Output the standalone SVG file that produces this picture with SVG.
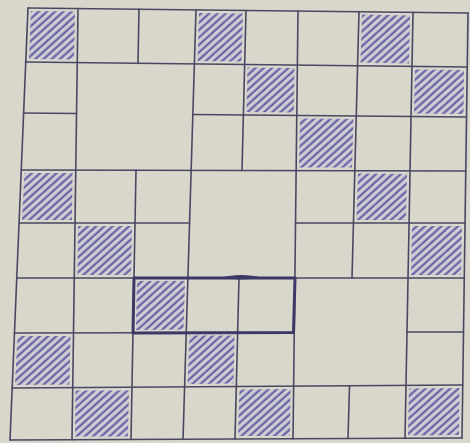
<svg xmlns="http://www.w3.org/2000/svg" width="470" height="443" viewBox="0 0 470 443">
  <defs>
    <pattern id="hatch" patternUnits="userSpaceOnUse" width="5.5" height="5.5" patternTransform="rotate(48)">
      <rect width="5.5" height="5.5" fill="#cfccd4"/>
      <line x1="1.5" y1="0" x2="1.5" y2="5.5" stroke="#5d59a3" stroke-width="2"/>
    </pattern>
  </defs>
  <style>
    .bg { fill: #d9d6cc; }
    .shade { fill: url(#hatch); }
    .grid line { stroke: #4b4763; stroke-width: 1.6; stroke-linecap: round; }
    .thick { fill: none; stroke: #3e3868; stroke-width: 3; stroke-linejoin: round; }
  </style>
  <rect class="bg" x="0" y="0" width="470" height="443"/>

  <g id="shaded-cells">
    <polygon id="cell-r0c0" class="shade" points="31,11 75,11.5 74,59.5 29,59"/>
    <polygon id="cell-r0c3" class="shade" points="199,13 243,13.5 241.5,61.5 197.5,61"/>
    <polygon id="cell-r0c6" class="shade" points="362,14.5 410,15.5 409,63.5 360.5,62.5"/>
    <polygon id="cell-r1c4" class="shade" points="247.5,67.5 294.5,68 294,112.5 246.5,112"/>
    <polygon id="cell-r1c7" class="shade" points="415,69.5 464,70 463.5,114 414,113.5"/>
    <polygon id="cell-r2c5" class="shade" points="300,118.5 353.5,119 352,167.5 299,167.5"/>
    <polygon id="cell-r3c0" class="shade" points="24.5,173 72.5,173 72,220 22,220"/>
    <polygon id="cell-r3c6" class="shade" points="358,173.5 407,174 406,220 356.5,220"/>
    <polygon id="cell-r4c1" class="shade" points="78,226 132,226 131,275 77.5,275"/>
    <polygon id="cell-r4c7" class="shade" points="412,226 462,226 461,275 411,275"/>
    <polygon id="cell-r5c2" class="shade" points="137,281 185,281 183.5,329.5 136,330"/>
    <polygon id="cell-r6c0" class="shade" points="17.5,336 70.5,336 69.5,384.5 15,385"/>
    <polygon id="cell-r6c3" class="shade" points="189.5,335.5 234.5,335.5 233.5,383.5 187.5,384"/>
    <polygon id="cell-r7c1" class="shade" points="75.5,390.5 129,390.5 128,436.5 75,436.5"/>
    <polygon id="cell-r7c4" class="shade" points="239.5,389.5 290.5,389 290,436 238,436"/>
    <polygon id="cell-r7c7" class="shade" points="409,388.5 459.5,388 459,435 408,435.5"/>
  </g>

  <g id="connectors" class="grid">
    <line x1="28" y1="8" x2="468" y2="13"/>
    <line x1="25.5" y1="62" x2="467" y2="67"/>
    <line x1="23.5" y1="113" x2="76.5" y2="113.5"/>
    <line x1="193" y1="114.5" x2="466.5" y2="117"/>
    <line x1="21.5" y1="170" x2="466" y2="171"/>
    <line x1="19" y1="223" x2="189.5" y2="223"/>
    <line x1="295.5" y1="223" x2="465" y2="223"/>
    <line x1="17" y1="278" x2="464" y2="278"/>
    <line x1="14.5" y1="333" x2="294" y2="332.5"/>
    <line x1="407" y1="332" x2="463.5" y2="332"/>
    <line x1="12" y1="388" x2="462.5" y2="385"/>
    <line x1="10" y1="440" x2="462" y2="438"/>
    <line x1="28" y1="8" x2="10" y2="440"/>
    <line x1="78" y1="8.5" x2="72" y2="440"/>
    <line x1="139" y1="9" x2="138" y2="63"/>
    <line x1="136" y1="170" x2="131" y2="439.5"/>
    <line x1="196" y1="10" x2="183" y2="439.5"/>
    <line x1="246" y1="10.5" x2="242" y2="170.5"/>
    <line x1="239" y1="278" x2="235" y2="439"/>
    <line x1="298" y1="11" x2="293" y2="439"/>
    <line x1="359" y1="11.5" x2="352" y2="278"/>
    <line x1="349.5" y1="386" x2="348" y2="438.5"/>
    <line x1="413" y1="12.5" x2="405" y2="438.5"/>
    <line x1="468" y1="13" x2="462" y2="438"/>
  </g>

  <g id="highlight">
    <path class="thick" d="M134,278 L295,278 L293.5,332.5 L133,333 Z"/>
    <path d="M222,277.5 C232,274 250,274 262,277.5 C250,280 232,280 222,277.5 Z" fill="#3e3868"/>
  </g>
</svg>
